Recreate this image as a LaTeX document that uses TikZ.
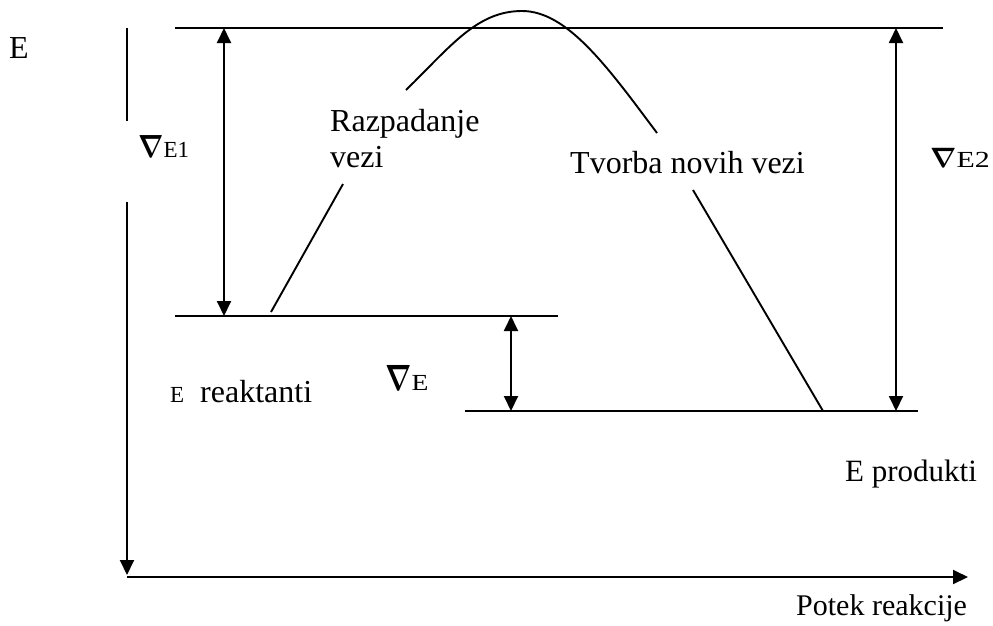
\documentclass[tikz,border=0pt]{standalone}
\usepackage{fontspec}
\usepackage{graphicx}
\setmainfont{Liberation Serif}
\usetikzlibrary{arrows.meta}
\newcommand\mynab[2]{\scalebox{#1}[#2]{\fontsize{10}{12}\selectfont\boldmath$\nabla$}}
\begin{document}
\begin{tikzpicture}[x=1pt,y=-1pt,
  ln/.style={line width=1.9pt},
  dbl/.style={line width=1.9pt,{Triangle[length=15pt,width=14pt]}-{Triangle[length=15pt,width=14pt]}},
  one/.style={line width=1.9pt,-{Triangle[length=15pt,width=14pt]}},
  lbl/.style={inner sep=0pt,anchor=base west,font=\fontsize{32}{36}\selectfont},
  sml/.style={inner sep=0pt,anchor=base west,font=\fontsize{23}{26}\selectfont}]
\useasboundingbox (0,0) rectangle (993,625);
% coordinates
\coordinate (axT) at (127,28);
\coordinate (axM1) at (127,121);
\coordinate (axM2) at (127,202);
\coordinate (axO) at (127,577);
\coordinate (axD) at (127,575);
\coordinate (axR) at (968,577);
\coordinate (topL) at (175,28);
\coordinate (topR) at (943,28);
\coordinate (reL) at (175,316);
\coordinate (reR) at (558,316);
\coordinate (prL) at (465,411);
\coordinate (prR) at (918,411);
\coordinate (e1T) at (224,28);
\coordinate (e1B) at (224,316);
\coordinate (deT) at (511,316);
\coordinate (deB) at (511,411);
\coordinate (e2T) at (896,28);
\coordinate (e2B) at (896,411);
\coordinate (c1a) at (271,312);
\coordinate (c1b) at (343,184);
\coordinate (c2a) at (406,90);
\coordinate (c2p) at (522,11);
\coordinate (c2b) at (657,133);
\coordinate (c3a) at (693,190);
\coordinate (c3b) at (823,411);
% axes
\draw[ln] (axT) -- (axM1);
\draw[one] (axM2) -- (axD);
\draw[one] (axO) -- (axR);
% levels
\draw[ln] (topL) -- (topR);
\draw[ln] (reL) -- (reR);
\draw[ln] (prL) -- (prR);
% energy arrows
\draw[dbl] (e1B) -- (e1T);
\draw[dbl] (deT) -- (deB);
\draw[dbl] (e2B) -- (e2T);
% reaction curve
\draw[ln] (c1a) -- (c1b);
\draw[ln] (c2a) .. controls (451,46) and (477,11) .. (c2p)
                .. controls (567,11) and (607,66) .. (c2b);
\draw[ln] (c3a) -- (c3b);
% labels
\node[inner sep=0pt,anchor=base west,font=\fontsize{32}{36}\selectfont] (lE) at (9,58) {E};
\node[sml] (lE1) at (138,157) {\mynab{2.65}{3.2}E1};
\node[lbl] (lR1) at (330,131) {Razpadanje};
\node[lbl] (lR2) at (330,167) {vezi};
\node[lbl] (lT) at (570,173) {Tvorba novih vezi};
\node[sml] (lE2) at (930,167) {\mynab{2.75}{2.8}\scalebox{1.3}[1]{E2}};
\node[sml] (lEr) at (170,402) {E};
\node[lbl] (lr) at (200,402) {reaktanti};
\node[sml] (lDE) at (385,390) {\mynab{2.75}{3.65}\scalebox{1.2}[1]{E}};
\node[inner sep=0pt,anchor=base west,font=\fontsize{31}{34}\selectfont] (lP) at (845,481) {E produkti};
\node[inner sep=0pt,anchor=base west,font=\fontsize{30}{34}\selectfont] (lPR) at (796,615) {Potek reakcije};
\end{tikzpicture}
\end{document}
